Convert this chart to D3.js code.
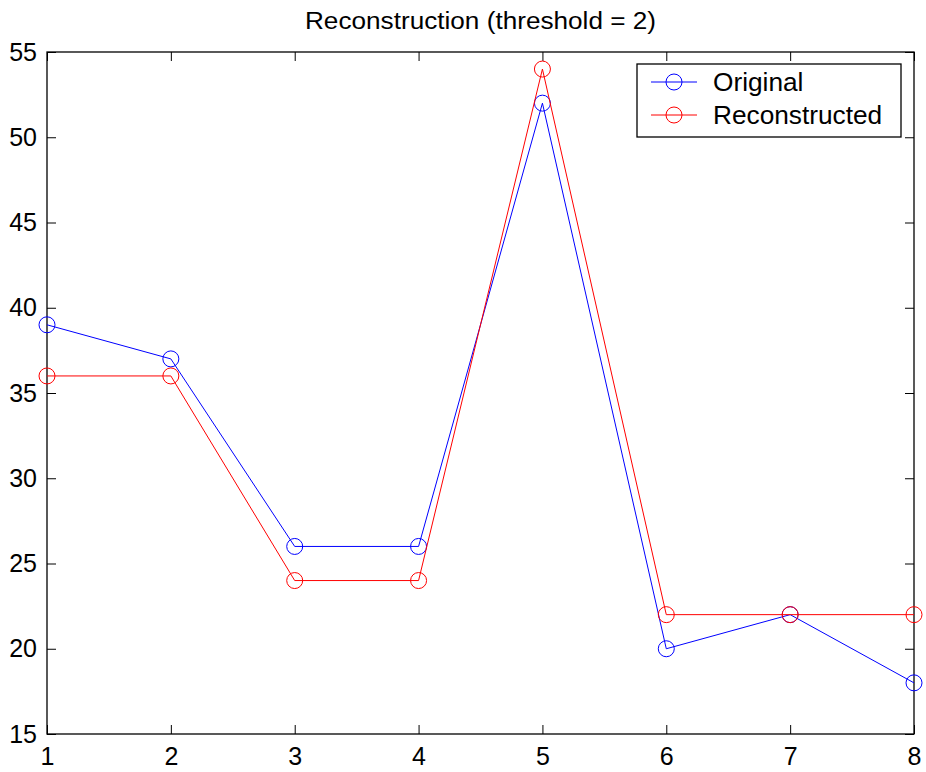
<!DOCTYPE html>
<html>
<head>
<meta charset="utf-8">
<script src="https://cdn.jsdelivr.net/npm/d3@7"></script>
<style>
  html, body { margin: 0; padding: 0; background: #fff; }
  svg { display: block; font-family: "Liberation Sans", Arial, sans-serif; }
</style>
</head>
<body>
<script>
// Sample index and the two signals
const xs = [1, 2, 3, 4, 5, 6, 7, 8];
const original = [39, 37, 26, 26, 52, 20, 22, 18];
const reconstructed = [36, 36, 24, 24, 54, 22, 22, 22];
const yTicks = [15, 20, 25, 30, 35, 40, 45, 50, 55];
const seriesNames = ["Original", "Reconstructed"];
const seriesColors = ["#0000ff", "#ff0000"];
const titleText = "Reconstruction (threshold = 2)";

const W = 926, H = 772;
const m = { left: 47, right: 12, top: 52, bottom: 38 };

const svg = d3.select("body").append("svg").attr("width", W).attr("height", H);

const x = d3.scaleLinear().domain([1, 8]).range([m.left, W - m.right]);
const y = d3.scaleLinear().domain([15, 55]).range([H - m.bottom, m.top]);

const tickLen = 9;
const fontTick = 25;

// Box frame
svg.append("rect")
  .attr("x", x(1)).attr("y", y(55))
  .attr("width", x(8) - x(1)).attr("height", y(15) - y(55))
  .attr("fill", "none").attr("stroke", "#000").attr("stroke-width", 1.3);

// Axes with inward ticks on all four sides
const axB = svg.append("g").attr("transform", `translate(0,${y(15)})`)
  .call(d3.axisBottom(x).tickValues(xs).tickSize(-tickLen).tickPadding(13).tickFormat(d3.format("d")));
const axT = svg.append("g").attr("transform", `translate(0,${y(55)})`)
  .call(d3.axisTop(x).tickValues(xs).tickSize(-tickLen).tickFormat(""));
const axL = svg.append("g").attr("transform", `translate(${x(1)},0)`)
  .call(d3.axisLeft(y).tickValues(yTicks).tickSize(-tickLen).tickPadding(10).tickFormat(d3.format("d")));
const axR = svg.append("g").attr("transform", `translate(${x(8)},0)`)
  .call(d3.axisRight(y).tickValues(yTicks).tickSize(-tickLen).tickFormat(""));

[axB, axT, axL, axR].forEach(g => {
  g.select(".domain").remove();
  g.selectAll(".tick line").attr("stroke", "#000").attr("stroke-width", 1);
  g.selectAll(".tick text").attr("fill", "#000").attr("font-size", fontTick)
    .attr("font-family", "'Liberation Sans', Arial, sans-serif");
});

// Title, slightly widened
const tx = (x(1) + x(8)) / 2;
svg.append("text")
  .attr("transform", `translate(${tx},29) scale(1.09,1)`)
  .attr("text-anchor", "middle").attr("font-size", 24).attr("fill", "#000")
  .text(titleText);

// Series
const data = [original, reconstructed];
const line = d3.line().x((d, i) => x(xs[i])).y(d => y(d));
data.forEach((vals, k) => {
  const g = svg.append("g");
  g.append("path").attr("d", line(vals))
    .attr("fill", "none").attr("stroke", seriesColors[k]).attr("stroke-width", 1);
  g.selectAll("circle").data(vals).join("circle")
    .attr("cx", (d, i) => x(xs[i])).attr("cy", d => y(d)).attr("r", 8)
    .attr("fill", "none").attr("stroke", seriesColors[k]).attr("stroke-width", 1);
});

// Legend
const lg = svg.append("g");
lg.append("rect").attr("x", 637).attr("y", 64).attr("width", 264).attr("height", 73)
  .attr("fill", "#fff").attr("stroke", "#000").attr("stroke-width", 1.3);
seriesNames.forEach((name, k) => {
  const cy = 82 + k * 33;
  lg.append("line").attr("x1", 651).attr("x2", 697).attr("y1", cy).attr("y2", cy)
    .attr("stroke", seriesColors[k]).attr("stroke-width", 1);
  lg.append("circle").attr("cx", 674).attr("cy", cy).attr("r", 8)
    .attr("fill", "none").attr("stroke", seriesColors[k]).attr("stroke-width", 1);
  lg.append("text").attr("transform", `translate(713,${cy + 9}) scale(1.05,1)`)
    .attr("font-size", 25).attr("fill", "#000").text(name);
});
</script>
</body>
</html>
